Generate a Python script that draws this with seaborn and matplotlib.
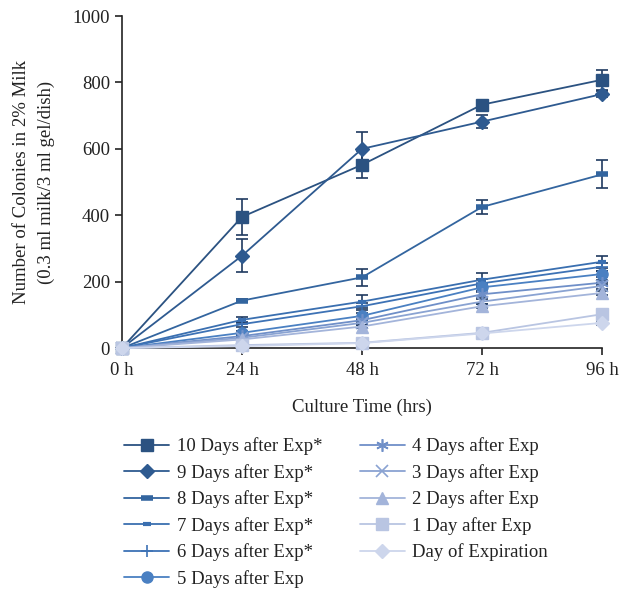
import matplotlib.pyplot as plt
import numpy as np
import pandas as pd
import seaborn as sns

hours = [0, 24, 48, 72, 96]
tick_labels = ['0 h', '24 h', '48 h', '72 h', '96 h']

series_names = ['10 Days after Exp*', '9 Days after Exp*', '8 Days after Exp*',
                '7 Days after Exp*', '6 Days after Exp*', '5 Days after Exp',
                '4 Days after Exp', '3 Days after Exp', '2 Days after Exp',
                '1 Day after Exp', 'Day of Expiration']

d10 = [0, 395, 552, 733, 808]
d9 = [0, 278, 600, 682, 765]
d8 = [0, 143, 213, 425, 523]
d7 = [0, 85, 140, 206, 260]
d6 = [0, 72, 126, 195, 245]
d5 = [0, 46, 97, 183, 223]
d4 = [0, 36, 84, 162, 197]
d3 = [0, 31, 76, 140, 187]
d2 = [0, 26, 65, 126, 166]
d1 = [0, 9, 16, 46, 102]
d0 = [0, 6, 15, 44, 76]

e10 = [0, 55, 40, 12, 30]
e9 = [0, 50, 50, 20, 10]
e8 = [0, 4, 25, 22, 42]
e7 = [0, 10, 20, 19, 18]
e6 = [0, 8, 10, 12, 12]
e5 = [0, 6, 8, 10, 10]
e4 = [0, 4, 6, 8, 8]
e3 = [0, 4, 6, 8, 8]
e2 = [0, 3, 5, 6, 6]
e1 = [0, 2, 3, 4, 5]
e0 = [0, 2, 3, 4, 5]

values = [d10, d9, d8, d7, d6, d5, d4, d3, d2, d1, d0]
errors = [e10, e9, e8, e7, e6, e5, e4, e3, e2, e1, e0]

colors = ['#2b5281', '#2e5a90', '#33659f', '#3a6fb0', '#3d72b5', '#4a80c2',
          '#6f8fc8', '#8aa3d2', '#a3b4da', '#b9c5e2', '#cdd6ec']
# marker, size, edge width
styles = [('s', 9, 1), ('D', 7, 1), ('_', 9, 4), ('_', 6, 3), ('+', 9, 1.2),
          ('o', 8, 1), ((6, 2, 0), 9, 1.2), ('x', 8, 1.2), ('^', 8, 1),
          ('s', 9, 1), ('D', 7, 1)]

df = pd.DataFrame({
    'hours': np.tile(hours, len(series_names)),
    'count': np.concatenate(values),
    'err': np.concatenate(errors),
    'series': np.repeat(series_names, len(hours)),
})

sns.set_style('ticks')
plt.rcParams['font.family'] = ['Liberation Serif', 'DejaVu Serif']
fs = 13.5

fig = plt.figure(figsize=(6.22, 5.93), dpi=100)
ax = fig.add_axes([0.196, 0.413, 0.772, 0.56])

for name, color, (mk, ms, mew) in zip(series_names, colors, styles):
    sub = df[df['series'] == name]
    ax.errorbar(sub['hours'], sub['count'], yerr=sub['err'], fmt='none',
                ecolor='#1f3a60', elinewidth=1.2, capsize=4, capthick=1.2,
                zorder=2, clip_on=False)
    sns.lineplot(data=sub, x='hours', y='count', ax=ax, color=color,
                 marker=mk, markersize=ms, markeredgewidth=mew,
                 markeredgecolor=color, linewidth=1.3, label=name,
                 clip_on=False, zorder=3)

ax.set_xlim(0, 96)
ax.set_ylim(0, 1000)
ax.set_xticks(hours)
ax.set_xticklabels(tick_labels)
ax.set_yticks([0, 200, 400, 600, 800, 1000])
ax.tick_params(labelsize=fs, color='#222222', length=5, width=1.2)
ax.tick_params(axis='x', pad=5)
for lab in ax.get_xticklabels() + ax.get_yticklabels():
    lab.set_color('#222222')
ax.spines['left'].set_linewidth(1.2)
ax.spines['bottom'].set_linewidth(1.2)
ax.spines['left'].set_color('#222222')
ax.spines['bottom'].set_color('#222222')
sns.despine(ax=ax)

ax.set_xlabel('Culture Time (hrs)', fontsize=fs, color='#222222', labelpad=14)
ax.set_ylabel('Number of Colonies in 2% Milk\n(0.3 ml milk/3 ml gel/dish)',
              fontsize=fs, color='#222222', labelpad=13, linespacing=1.55)

handles, labels = ax.get_legend_handles_labels()
ax.legend(handles, labels, ncol=2, loc='upper left',
          bbox_to_anchor=(-0.03, -0.218), frameon=False, fontsize=fs,
          handlelength=2.4, handletextpad=0.4, columnspacing=2.0,
          labelspacing=0.46, labelcolor='#222222')

fig.savefig('out.png', dpi=100)
